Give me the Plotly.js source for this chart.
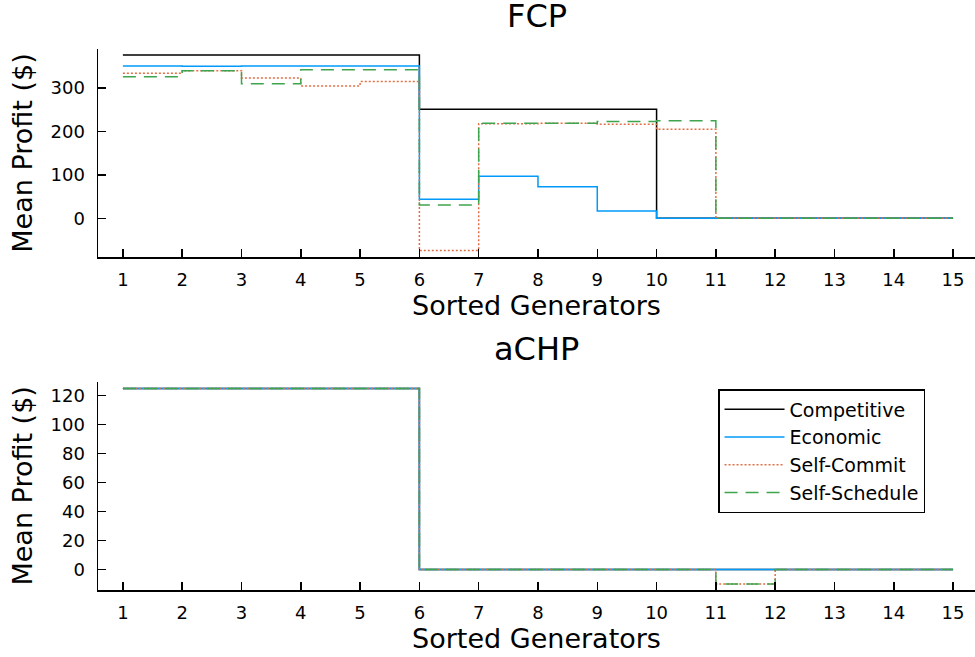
<!DOCTYPE html>
<html>
<head>
<meta charset="utf-8">
<script src="https://cdn.plot.ly/plotly-3.0.1.min.js"></script>
<style>html,body{margin:0;padding:0;background:#fff;}#chart{width:975px;height:657px;}</style>
</head>
<body>
<div id="chart"></div>
<script>
// Sorted generator index
const generators = [1,2,3,4,5,6,7,8,9,10,11,12,13,14,15];
const xTicks = [1,2,3,4,5,6,7,8,9,10,11,12,13,14,15];
const seriesNames = ["Competitive","Economic","Self-Commit","Self-Schedule"];

// FCP panel (mean profit, $)
const fcpCompetitive  = [376,376,376,376,376,251,251,251,251,0,0,0,0,0,0];
const fcpEconomic     = [351,350,351,351,351,44,97,73,17,0,0,0,0,0,0];
const fcpSelfCommit   = [334,340,323,305,315,-74,218,219,217,205,0,0,0,0,0];
const fcpSelfSchedule = [326,340,310,342,342,31,219,219,223,225,0,0,0,0,0];

// aCHP panel (mean profit, $)
const achpCompetitive  = [125,125,125,125,125,0,0,0,0,0,0,0,0,0,0];
const achpEconomic     = [125,125,125,125,125,0,0,0,0,0,0,0,0,0,0];
const achpSelfCommit   = [125,125,125,125,125,0,0,0,0,0,-10,0,0,0,0];
const achpSelfSchedule = [125,125,125,125,125,0,0,0,0,0,-10,0,0,0,0];

const FONT = "DejaVu Sans";
const styles = [
  {color:"#000000", dash:"solid"},
  {color:"#009AFA", dash:"solid"},
  {color:"#E26F46", dash:"2px,2px"},
  {color:"#3EA44E", dash:"13px,8px"}
];

function mk(y, i, xa, ya, show){
  return {
    x: generators, y: y, type:"scatter", mode:"lines",
    name: seriesNames[i], legendgroup: seriesNames[i], showlegend: show,
    line:{shape:"hv", color:styles[i].color, dash:styles[i].dash, width:1.5},
    xaxis: xa, yaxis: ya, hoverinfo:"skip"
  };
}

const traces = [
  mk(fcpCompetitive,0,"x","y",false),
  mk(fcpEconomic,1,"x","y",false),
  mk(fcpSelfCommit,2,"x","y",false),
  mk(fcpSelfSchedule,3,"x","y",false),
  mk(achpCompetitive,0,"x2","y2",true),
  mk(achpEconomic,1,"x2","y2",true),
  mk(achpSelfCommit,2,"x2","y2",true),
  mk(achpSelfSchedule,3,"x2","y2",true)
];

const tickFont = {family:FONT, size:18, color:"#000"};
const guideFont = {family:FONT, size:27, color:"#000"};

function xax(anchor){
  return {
    anchor: anchor, domain:[0,1], range:[0.58,15.37],
    tickmode:"array", tickvals:xTicks, ticktext:xTicks.map(String),
    ticks:"inside", ticklen:8, tickwidth:1.5, tickcolor:"#000",
    showline:true, linecolor:"#000", linewidth:1.5, mirror:false,
    showgrid:false, zeroline:false, tickfont:tickFont,
    ticklabelstandoff: 6,
    title:{text:"Sorted Generators", font:guideFont, standoff:5}
  };
}
function yax(anchor, domain, range, dtick){
  return {
    anchor: anchor, domain: domain, range: range,
    tickmode:"linear", tick0:0, dtick:dtick,
    ticks:"inside", ticklen:8, tickwidth:1.5, tickcolor:"#000",
    showline:true, linecolor:"#000", linewidth:1.5, mirror:false,
    showgrid:false, zeroline:false, tickfont:tickFont,
    ticklabelstandoff: 8,
    title:{text:"Mean Profit ($)", font:guideFont, standoff:10}
  };
}

const layout = {
  width:975, height:657,
  margin:{l:98, r:0, t:49, b:67},
  paper_bgcolor:"#fff", plot_bgcolor:"#fff",
  font:{family:FONT, color:"#000"},
  xaxis: xax("y"),
  yaxis: yax("x",[0.6155,1],[-89,390],100),
  xaxis2: xax("y2"),
  yaxis2: yax("x2",[0,0.385],[-14.1,129.6],20),
  showlegend:true,
  legend:{
    x:0.707, y:0.3715, xanchor:"left", yanchor:"top",
    bgcolor:"#fff", bordercolor:"#000", borderwidth:1.5,
    font:{family:FONT, size:19, color:"#000"},
    itemwidth:60, tracegroupgap:0
  },
  annotations:[
    {text:"FCP", xref:"paper", yref:"paper", x:0.5, y:1.022, xanchor:"center", yanchor:"bottom",
     showarrow:false, font:{family:FONT, size:32, color:"#000"}},
    {text:"aCHP", xref:"paper", yref:"paper", x:0.5, y:0.4067, xanchor:"center", yanchor:"bottom",
     showarrow:false, font:{family:FONT, size:32, color:"#000"}}
  ]
};

Plotly.newPlot("chart", traces, layout, {staticPlot:true, displayModeBar:false});
</script>
</body>
</html>
